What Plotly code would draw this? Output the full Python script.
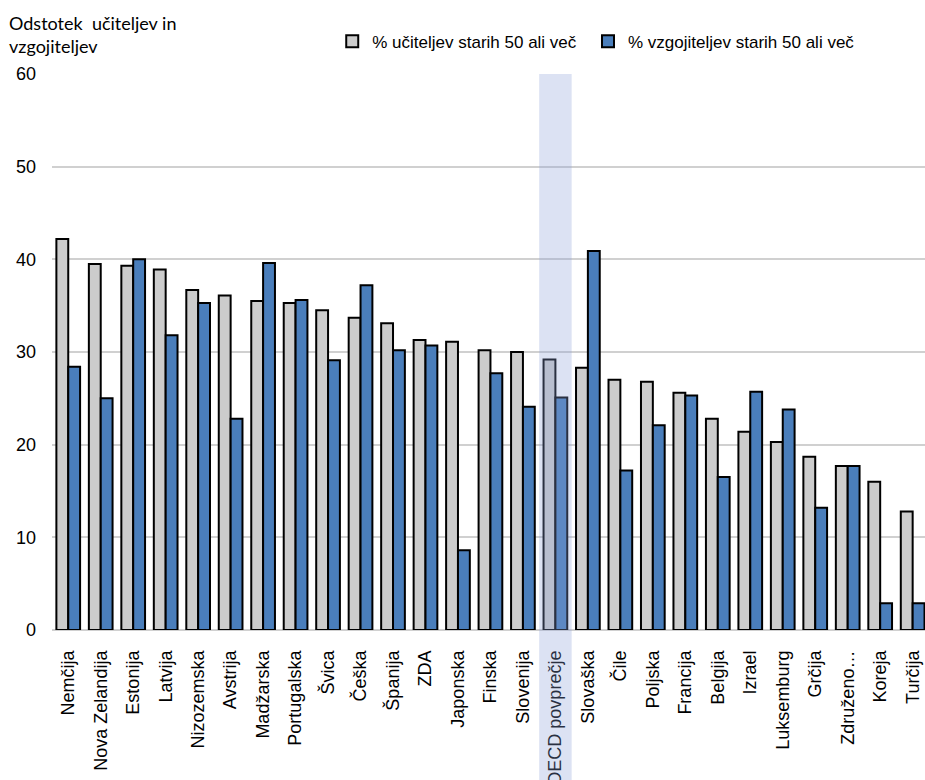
import plotly.graph_objects as go

# Countries (OECD average included) in display order
countries = [
    "Nemčija", "Nova Zelandija", "Estonija", "Latvija", "Nizozemska", "Avstrija",
    "Madžarska", "Portugalska", "Švica", "Češka", "Španija", "ZDA", "Japonska",
    "Finska", "Slovenija", "OECD povprečje", "Slovaška", "Čile", "Poljska",
    "Francija", "Belgija", "Izrael", "Luksemburg", "Grčija", "Združeno…",
    "Koreja", "Turčija",
]

# Share of primary teachers aged 50 or older (%)
teachers_50plus = [
    42.2, 39.5, 39.3, 38.9, 36.7, 36.1, 35.5, 35.3, 34.5, 33.7, 33.1, 31.3, 31.1,
    30.2, 30.0, 29.2, 28.3, 27.0, 26.8, 25.6, 22.8, 21.4, 20.3, 18.7, 17.7,
    16.0, 12.8,
]

# Share of pre-primary teachers aged 50 or older (%)
preschool_50plus = [
    28.4, 25.0, 40.0, 31.8, 35.3, 22.8, 39.6, 35.6, 29.1, 37.2, 30.2, 30.7, 8.6,
    27.7, 24.1, 25.1, 40.9, 17.2, 22.1, 25.3, 16.5, 25.7, 23.8, 13.2, 17.7,
    2.9, 2.9,
]

y_ticks = [0, 10, 20, 30, 40, 50, 60]
highlight = "OECD povprečje"

fig = go.Figure()
fig.add_trace(go.Bar(
    x=countries, y=teachers_50plus, name="% učiteljev starih 50 ali več",
    marker=dict(color="#CCCCCC", line=dict(color="#000000", width=2)),
    legend="legend",
))
fig.add_trace(go.Bar(
    x=countries, y=preschool_50plus, name="% vzgojiteljev starih 50 ali več",
    marker=dict(color="#4A7EBB", line=dict(color="#000000", width=2)),
    legend="legend2",
))

# category axis range; the last category runs slightly past the right edge
x_range = [-0.5, len(countries) - 1 + 0.38]
span = x_range[1] - x_range[0]

# translucent band over the OECD average column, running down through its label
i = countries.index(highlight)
fig.add_shape(
    type="rect", xref="paper", yref="paper",
    x0=(i - 0.5 - x_range[0]) / span, x1=(i + 0.5 - x_range[0]) / span,
    y0=-0.3, y1=1.0,
    fillcolor="rgba(140,160,215,0.3)", line=dict(width=0), layer="above",
)

fig.add_annotation(
    xref="paper", yref="paper", x=-0.052, y=1.027, xanchor="left", yanchor="bottom",
    text="Odstotek  učiteljev in<br>vzgojiteljev", showarrow=False, align="left",
    font=dict(family="Lato", size=18, color="#000000"),
)

legend_style = dict(
    orientation="h", y=1.058, xanchor="left", yanchor="middle",
    font=dict(size=17), itemwidth=30, bgcolor="rgba(0,0,0,0)",
)

fig.update_layout(
    width=925, height=780,
    margin=dict(l=52, r=0, t=74, b=150, autoexpand=False),
    paper_bgcolor="white", plot_bgcolor="white",
    barmode="group", bargap=0.27, bargroupgap=0,
    font=dict(family="Liberation Sans, Arial", color="#000000"),
    showlegend=True,
    legend=dict(x=0.321, **legend_style),
    legend2=dict(x=0.614, **legend_style),
    xaxis=dict(
        range=x_range, tickangle=-90, tickfont=dict(size=18), showgrid=False,
        showline=False, ticks="", ticklabelstandoff=16, automargin=False,
    ),
    yaxis=dict(
        range=[0, 60], tickvals=y_ticks, tickfont=dict(size=18),
        showgrid=True, gridcolor="#D0D0D0", gridwidth=2,
        zeroline=True, zerolinecolor="#D0D0D0", zerolinewidth=2,
        showline=False, ticks="", ticklabelstandoff=15, automargin=False,
    ),
)

fig.write_html("out.html")
